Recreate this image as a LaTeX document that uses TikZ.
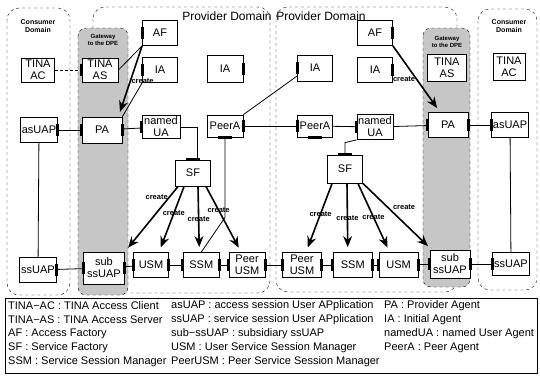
\documentclass[tikz,border=0pt]{standalone}
\usepackage{fontspec}
\setmainfont{Liberation Sans}
\usetikzlibrary{arrows.meta,positioning}

% thick interface bar on a box side
\newcommand{\portEW}[2]{\draw[port] ([yshift=-6pt]#1.#2) -- ([yshift=6pt]#1.#2);}
\newcommand{\portNS}[2]{\draw[port] ([xshift=-7pt]#1.#2) -- ([xshift=7pt]#1.#2);}

\begin{document}
\begin{tikzpicture}[
  x=1pt, y=-1pt,
  font=\fontsize{11}{12}\selectfont,
  >={Stealth[length=11pt,width=9pt]},
  domframe/.style={draw, dashed, thin, rounded corners=12pt},
  gateway/.style={draw, dashed, thin, rounded corners=8pt, fill=gray!45},
  box/.style={
    draw,
    line width=0.8pt,
    fill=white,
    inner sep=1pt,
    minimum width=35pt,
    minimum height=25pt,
    align=center
  },
  port/.style={line width=3pt},
  link/.style={draw, line width=0.8pt},
  dotlink/.style={draw, line width=0.8pt, densely dashed},
  create/.style={->, line width=1.6pt, shorten >=5pt},
  lbl/.style={font=\fontsize{7.5}{8}\selectfont\bfseries, inner sep=0.5pt},
  domlbl/.style={font=\fontsize{7}{8}\selectfont\bfseries, align=center},
  gatelbl/.style={font=\fontsize{6}{6.5}\selectfont\bfseries, align=center},
  leg/.style={font=\fontsize{11}{12}\selectfont, anchor=west, inner sep=0pt}
]
\useasboundingbox (0,0) rectangle (540,376);
\fill[white] (0,0) rectangle (540,376);

% Domains and gateway columns.
\draw[domframe] (7,8) rectangle (70,295);
\draw[domframe] (93,7) rectangle (270,293);
\draw[domframe] (276,7) rectangle (457,292);
\draw[domframe] (478,9) rectangle (537,290);
\draw[gateway] (78,28) rectangle (128,295);
\draw[gateway] (423,28) rectangle (470,287);

\node[domlbl] (cdL) at (38,26) {Consumer\\Domain};
\node[domlbl] (cdR) at (509,26) {Consumer\\Domain};
\node[font=\fontsize{12}{13}\selectfont] (pdL) at (227,16) {Provider Domain};
\node[font=\fontsize{12}{13}\selectfont] (pdR) at (321,16) {Provider Domain};
\node[gatelbl] (gwL) at (103,40) {Gateway\\to the DPE};
\node[gatelbl] (gwR) at (447,42) {Gateway\\to the DPE};

% Left consumer and provider.
\node[box, minimum width=33pt, minimum height=24pt] (acL) at (38,70) {TINA\\AC};
\node[box, minimum width=37pt] (asL) at (39,130) {asUAP};
\node[box, minimum width=37pt] (ssL) at (38,270) {ssUAP};
\node[box, minimum width=36pt, minimum height=24pt] (tasL) at (100,70) {TINA\\AS};
\node[box, minimum width=40pt, minimum height=26pt] (paL) at (102,130) {PA};
\node[box, minimum width=41pt, minimum height=32pt] (subL) at (104,268) {sub\\ssUAP};
\node[box] (afL) at (160,33) {AF};
\node[box] (iaL) at (160,70) {IA};
\node[box, minimum width=38pt, minimum height=23pt] (uaL) at (161,127) {named\\UA};
\node[box, minimum width=36pt, minimum height=27pt] (iaM) at (225,69) {IA};
\node[box, minimum width=36pt, minimum height=22pt] (peerL) at (225,126) {PeerA};
\node[box, minimum height=26pt] (sfL) at (193,173) {SF};
\node[box] (usmL) at (151,265) {USM};
\node[box, minimum width=36pt, right=14pt of usmL] (ssmL) {SSM};
\node[box, minimum width=36pt, right=9pt of ssmL] (pusmL) {Peer\\USM};

% Right provider and consumer.
\node[box, minimum height=26pt] (iaN) at (315,68) {IA};
\node[box, minimum height=22pt] (peerR) at (315,126) {PeerA};
\node[box, minimum width=36pt] (uaR) at (375,127) {named\\UA};
\node[box] (afR) at (375,33) {AF};
\node[box] (iaR) at (375,70) {IA};
\node[box, minimum height=28pt] (sfR) at (345,169) {SF};
\node[box, minimum width=39pt] (pusmR) at (302,265) {Peer\\USM};
\node[box, minimum width=39pt, right=11pt of pusmR] (ssmR) {SSM};
\node[box, minimum width=39pt, right=6pt of ssmR] (usmR) {USM};
\node[box, minimum width=39pt, minimum height=27pt] (tasR) at (447,68) {TINA\\AS};
\node[box, minimum width=40pt] (paR) at (448,125) {PA};
\node[box, minimum width=40pt, minimum height=28pt] (subR) at (450,264) {sub\\ssUAP};
\node[box, minimum width=32pt, minimum height=27pt] (acR) at (509,67) {TINA\\AC};
\node[box] (asR) at (510,125) {asUAP};
\node[box, minimum width=37pt, minimum height=23pt] (ssR) at (511,264) {ssUAP};

% Interfaces.
\portEW{asL}{east} \portEW{ssL}{east}
\portEW{tasL}{west} \portEW{paL}{west} \portEW{paL}{east}
\portEW{subL}{west} \portEW{subL}{east}
\portEW{afL}{west} \portEW{iaL}{west} \portEW{uaL}{west}
\portEW{iaM}{east} \portEW{peerL}{east} \portNS{peerL}{south}
\portNS{sfL}{north}
\portEW{usmL}{west} \portEW{usmL}{east}
\portEW{ssmL}{west} \portEW{ssmL}{east}
\portEW{pusmL}{west} \portEW{pusmL}{east}
\portEW{iaN}{west} \portEW{peerR}{west} \portNS{peerR}{south}
\portEW{uaR}{west} \portEW{afR}{east} \portEW{iaR}{east}
\portNS{sfR}{north}
\portEW{pusmR}{west} \portEW{pusmR}{east}
\portEW{ssmR}{west} \portEW{ssmR}{east}
\portEW{usmR}{west} \portEW{usmR}{east}
\portEW{paR}{west} \portEW{paR}{east}
\portEW{subR}{west} \portEW{subR}{east}
\portEW{asR}{west} \portEW{ssR}{west}

% Plain connections.
\coordinate (bendL) at ([yshift=-80pt]peerL.south);
\coordinate (bendR) at ([yshift=12pt]sfR.north);
\draw[dotlink] (acL) -- (tasL);
\draw[link] (asL) -- (paL);
\draw[link] (asL) -- (ssL);
\draw[link] (ssL) -- (subL);
\draw[link] (paL) -- (uaL);
\draw[link] (uaL.east) -| ([xshift=4pt]sfL.north);
\draw[link] (afL.south west) -- (tasL.east);
\draw[link] (iaL.south west) -- (paL.north east);
\draw[link] (peerL.south) -- (bendL) -- (ssmL.north);
\draw[link] (peerL) -- (peerR);
\draw[link] (peerL.north east) -- ([yshift=-8pt]iaN.west);
\draw[link] (subL) -- (usmL);
\draw[link] (usmL) -- (ssmL);
\draw[link] (ssmL) -- (pusmL);
\draw[link] (pusmL) -- (pusmR);
\draw[link] (pusmR) -- (ssmR);
\draw[link] (ssmR) -- (usmR);
\draw[link] (usmR) -- (subR);
\draw[link] (subR) -- (ssR);
\draw[link] (peerR) -- (uaR);
\draw[link] (uaR) -- (paR);
\draw[link] (paR) -- (asR);
\draw[link] (asR) -- (ssR);
\draw[link] (sfR.north) -- (bendR) -- (uaR.south west);

% Creation arrows.
\draw[create] (afL.south west) -- ([xshift=-4pt]paL.north east)
  node[lbl, pos=0.5, right] (cr1) {create};
\draw[create] ([xshift=3pt]sfL.south west) -- (subL.north east)
  node[lbl, pos=0.17, left] (cr2) {create};
\draw[create] ([xshift=9pt]sfL.south west) -- ([xshift=8pt]usmL.north)
  node[lbl, pos=0.41] (cr3) {create};
\draw[create] ([xshift=5pt]sfL.south) -- ([xshift=-2pt]ssmL.north)
  node[lbl, pos=0.5] (cr4) {create};
\draw[create] ([xshift=-5pt]sfL.south east) -- ([xshift=-6pt]pusmL.north)
  node[lbl, pos=0.36] (cr5) {create};
\draw[create] (afR.south east) -- ([xshift=-8pt]paR.north)
  node[lbl, pos=0.5, left] (cr6) {create};
\draw[create] ([xshift=5pt]sfR.south west) -- ([xshift=4pt]pusmR.north)
  node[lbl, pos=0.44] (cr7) {create};
\draw[create] ([xshift=2pt]sfR.south) -- ([xshift=-5pt]ssmR.north)
  node[lbl, pos=0.5] (cr8) {create};
\draw[create] ([xshift=-5pt]sfR.south east) -- ([xshift=-9pt]usmR.north)
  node[lbl, pos=0.49] (cr9) {create};
\draw[create] (sfR.south east) -- ([xshift=2pt]subR.north west)
  node[lbl, pos=0.42, above right] (cr10) {create};

% Legend.
\draw[line width=0.8pt] (5,298) rectangle (537,373);
\node[leg] (l11) at (8,306) {TINA−AC : TINA Access Client};
\node[leg] (l21) at (8,320) {TINA−AS : TINA Access Server};
\node[leg] (l31) at (8,334) {AF : Access Factory};
\node[leg] (l41) at (8,348) {SF : Service Factory};
\node[leg] (l51) at (8,362) {SSM : Service Session Manager};
\node[leg] (l12) at (171,306) {asUAP : access session User APplication};
\node[leg] (l22) at (171,320) {ssUAP : service session User APplication};
\node[leg] (l32) at (171,334) {sub−ssUAP : subsidiary ssUAP};
\node[leg] (l42) at (171,348) {USM : User Service Session Manager};
\node[leg] (l52) at (171,362) {PeerUSM : Peer Service Session Manager};
\node[leg] (l13) at (384,306) {PA : Provider Agent};
\node[leg] (l23) at (384,320) {IA : Initial Agent};
\node[leg] (l33) at (384,334) {namedUA : named User Agent};
\node[leg] (l43) at (384,348) {PeerA : Peer Agent};

\end{tikzpicture}
\end{document}
